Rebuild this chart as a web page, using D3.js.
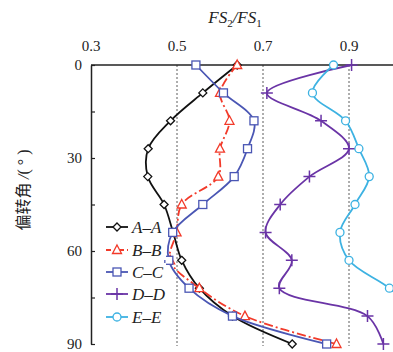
<!DOCTYPE html>
<html>
<head>
<meta charset="utf-8">
<script src="https://cdn.jsdelivr.net/npm/d3@7"></script>
<style>
  body { margin: 0; background: #fff; }
  svg text { font-family: "Liberation Serif", "Times New Roman", serif; }
</style>
</head>
<body>
<svg id="chart" width="393" height="352"></svg>
<script>
// deflection angle (deg) for every row
var angles = [0, 9, 18, 27, 36, 45, 54, 63, 72, 81, 90];
// FS2/FS1 per section
var seriesAA = [0.64, 0.56, 0.485, 0.433, 0.432, 0.47, 0.491, 0.511, 0.552, 0.629, 0.768];
var seriesBB = [0.64, 0.60, 0.622, 0.60, 0.596, 0.511, 0.499, 0.484, 0.552, 0.658, 0.871];
var seriesCC = [0.544, 0.608, 0.679, 0.664, 0.633, 0.56, 0.49, 0.481, 0.528, 0.629, 0.848];
var seriesDD = [0.906, 0.709, 0.835, 0.90, 0.808, 0.74, 0.706, 0.767, 0.738, 0.943, 0.98];
var seriesEE = [0.864, 0.815, 0.892, 0.923, 0.947, 0.914, 0.879, 0.90, 0.994, 1.06, 1.09];
var seriesNames = ["A\u2013A", "B\u2013B", "C\u2013C", "D\u2013D", "E\u2013E"];
var xTicks = [0.3, 0.5, 0.7, 0.9];
var gridTicks = [0.5, 0.7, 0.9];
var yTicks = [0, 15, 30, 45, 60, 75, 90];
var yLabels = [0, 30, 60, 90];

var svg = d3.select("#chart");

var x = d3.scaleLinear().domain([0.3, 1.0]).range([91, 392]);
var y = d3.scaleLinear().domain([0, 90]).range([65, 344]);

var series = [
    {name: seriesNames[0], values: seriesAA, color: "#111111", marker: "diamond", dash: null},
    {name: seriesNames[1], values: seriesBB, color: "#f23a2a", marker: "triangle", dash: "9,3,2,3"},
    {name: seriesNames[2], values: seriesCC, color: "#4a56b4", marker: "square", dash: null},
    {name: seriesNames[3], values: seriesDD, color: "#6a34a6", marker: "plus", dash: null},
    {name: seriesNames[4], values: seriesEE, color: "#3db2e2", marker: "circle", dash: null}
];

svg.append("clipPath").attr("id", "plotClip")
    .append("rect").attr("x", 88).attr("y", 55).attr("width", 305).attr("height", 297);

// dotted guide lines
svg.selectAll(".grid").data(gridTicks).enter().append("line")
    .attr("x1", function (d) { return x(d); })
    .attr("x2", function (d) { return x(d); })
    .attr("y1", y(0))
    .attr("y2", y(90) + 2)
    .style("stroke", "#333")
    .style("stroke-width", 0.8)
    .style("stroke-dasharray", "2,2");

// top axis
svg.append("line")
    .attr("x1", x(0.3)).attr("x2", 393).attr("y1", y(0)).attr("y2", y(0))
    .style("stroke", "#222").style("stroke-width", 1.5);
svg.selectAll(".xlab").data(xTicks).enter().append("text")
    .attr("x", function (d) { return x(d); })
    .attr("y", 51)
    .attr("text-anchor", "middle")
    .style("font-size", "15px")
    .style("fill", "#222")
    .text(function (d) { return d3.format(".1f")(d); });

// left axis
var yAxis = d3.axisLeft(y).tickValues(yTicks).tickSizeInner(-4).tickSizeOuter(0).tickFormat("");
var yg = svg.append("g").attr("transform", "translate(" + x(0.3) + ",0)").call(yAxis);
yg.select(".domain").style("stroke", "#222").style("stroke-width", 1.5);
yg.selectAll(".tick line").style("stroke", "#222").style("stroke-width", 1.2);
svg.selectAll(".ylab").data(yLabels).enter().append("text")
    .attr("x", 82)
    .attr("y", function (d) { return y(d) + 5; })
    .attr("text-anchor", "end")
    .style("font-size", "15px")
    .style("fill", "#222")
    .text(function (d) { return d; });

// axis titles
var xTitle = svg.append("text")
    .attr("x", 235).attr("y", 23)
    .attr("text-anchor", "middle")
    .style("font-size", "17px")
    .style("font-style", "italic")
    .style("fill", "#222");
xTitle.append("tspan").text("FS");
xTitle.append("tspan").attr("dy", 4).style("font-size", "11px").style("font-style", "normal").text("2");
xTitle.append("tspan").attr("dy", -4).text("/FS");
xTitle.append("tspan").attr("dy", 4).style("font-size", "11px").style("font-style", "normal").text("1");

var yTitle = svg.append("text")
    .attr("transform", "translate(29,190) rotate(-90)")
    .attr("text-anchor", "middle")
    .style("font-size", "16px")
    .style("fill", "#222");
yTitle.append("tspan").style("font-family", "'Noto Sans CJK SC'").text("偏转角 ");
yTitle.append("tspan").style("font-style", "italic").text("/");
yTitle.append("tspan").text("( ° )");

function drawMarker(g, type, color) {
    if (type === "diamond") {
        g.append("path").attr("d", "M0,-4L4,0L0,4L-4,0Z")
            .style("fill", "#fff").style("stroke", color).style("stroke-width", 1.3);
    } else if (type === "triangle") {
        g.append("path").attr("d", "M0,-5L4.5,3.5L-4.5,3.5Z")
            .style("fill", "#fff").style("stroke", color).style("stroke-width", 1.3);
    } else if (type === "square") {
        g.append("rect").attr("x", -4).attr("y", -4).attr("width", 8).attr("height", 8)
            .style("fill", "#fff").style("stroke", color).style("stroke-width", 1.3);
    } else if (type === "plus") {
        g.append("path").attr("d", "M-6,0H6M0,-6V6")
            .style("fill", "none").style("stroke", color).style("stroke-width", 1.5);
    } else {
        g.append("circle").attr("r", 4)
            .style("fill", "#fff").style("stroke", color).style("stroke-width", 1.3);
    }
}

var line = d3.line()
    .x(function (d) { return x(d.v); })
    .y(function (d) { return y(d.a); })
    .curve(d3.curveCatmullRom.alpha(0.5));

var plot = svg.append("g").attr("clip-path", "url(#plotClip)");

series.forEach(function (s) {
    var pts = s.values.map(function (v, i) { return {v: v, a: angles[i]}; });
    plot.append("path")
        .datum(pts)
        .attr("d", line)
        .style("fill", "none")
        .style("stroke", s.color)
        .style("stroke-width", 1.8)
        .style("stroke-dasharray", s.dash);
    pts.forEach(function (p) {
        var g = plot.append("g").attr("transform", "translate(" + x(p.v) + "," + y(p.a) + ")");
        drawMarker(g, s.marker, s.color);
    });
});

// legend
var legendY = [227, 250, 272, 294, 317];
series.forEach(function (s, i) {
    var g = svg.append("g").attr("transform", "translate(0," + legendY[i] + ")");
    g.append("rect").attr("x", 104).attr("y", -9).attr("width", 62).attr("height", 19).style("fill", "#fff");
    g.append("line").attr("x1", 106).attr("x2", 128).attr("y1", 0).attr("y2", 0)
        .style("stroke", s.color).style("stroke-width", 1.8)
        .style("stroke-dasharray", s.dash ? "5,3,2,3" : null);
    var m = g.append("g").attr("transform", "translate(117,0)");
    drawMarker(m, s.marker, s.color);
    g.append("text").attr("x", 132).attr("y", 6)
        .style("font-size", "17px").style("font-style", "italic").style("fill", "#222")
        .text(s.name);
});
</script>
</body>
</html>
